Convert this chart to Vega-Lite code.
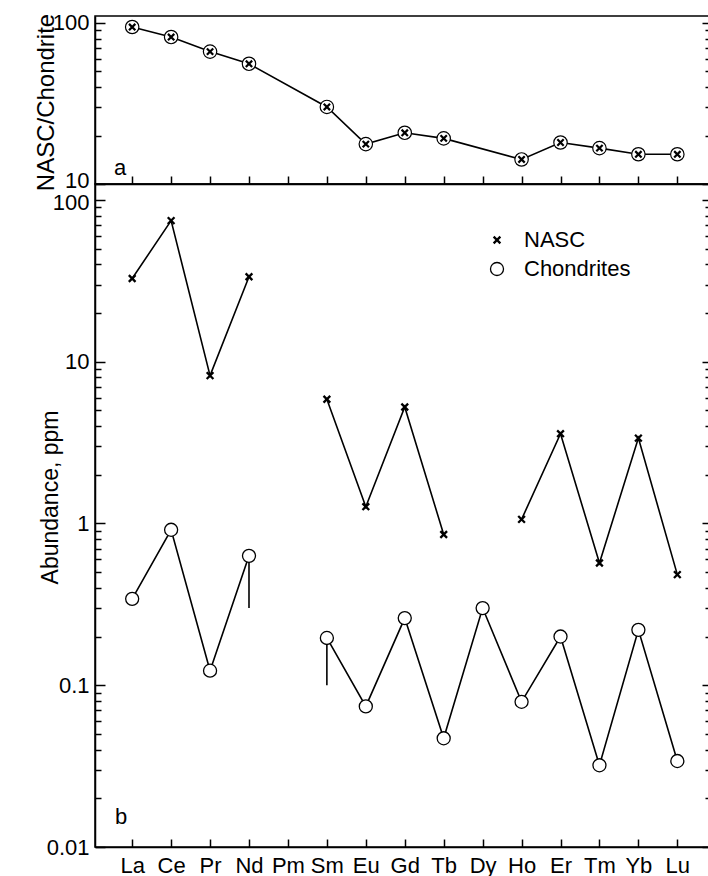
{
  "$schema": "https://vega.github.io/schema/vega-lite/v6.json",
  "background": "white",
  "padding": {"left": 33, "top": 11, "right": 0, "bottom": 0},
  "spacing": 0,
  "bounds": "flush",
  "config": {
    "font": "Liberation Sans",
    "view": {"stroke": "black", "strokeWidth": 1.5},
    "axis": {
      "domainColor": "black", "domainWidth": 1.5, "tickColor": "black", "tickWidth": 1.5,
      "labelColor": "black", "titleColor": "black", "grid": false,
      "labelFont": "Liberation Sans", "labelFontSize": 22,
      "titleFont": "Liberation Sans", "titleFontSize": 23, "titleFontWeight": "normal"
    },
    "text": {"font": "Liberation Sans"}
  },
  "datasets": {
    "ratio": [
      {"el": "La", "r": 94.4}, {"el": "Ce", "r": 81.8}, {"el": "Pr", "r": 66.4}, {"el": "Nd", "r": 55.8},
      {"el": "Sm", "r": 30.1}, {"el": "Eu", "r": 17.7}, {"el": "Gd", "r": 20.8}, {"el": "Tb", "r": 19.2},
      {"el": "Ho", "r": 14.2}, {"el": "Er", "r": 18.1}, {"el": "Tm", "r": 16.7}, {"el": "Yb", "r": 15.3},
      {"el": "Lu", "r": 15.3}
    ],
    "abund": [
      {"el": "La", "series": "NASC", "grp": "N1", "v": 32.7},
      {"el": "Ce", "series": "NASC", "grp": "N1", "v": 74.5},
      {"el": "Pr", "series": "NASC", "grp": "N1", "v": 8.2},
      {"el": "Nd", "series": "NASC", "grp": "N1", "v": 33.5},
      {"el": "Sm", "series": "NASC", "grp": "N2", "v": 5.86},
      {"el": "Eu", "series": "NASC", "grp": "N2", "v": 1.27},
      {"el": "Gd", "series": "NASC", "grp": "N2", "v": 5.25},
      {"el": "Tb", "series": "NASC", "grp": "N2", "v": 0.855},
      {"el": "Ho", "series": "NASC", "grp": "N3", "v": 1.06},
      {"el": "Er", "series": "NASC", "grp": "N3", "v": 3.59},
      {"el": "Tm", "series": "NASC", "grp": "N3", "v": 0.57},
      {"el": "Yb", "series": "NASC", "grp": "N3", "v": 3.37},
      {"el": "Lu", "series": "NASC", "grp": "N3", "v": 0.483},
      {"el": "La", "series": "Chondrites", "grp": "C1", "v": 0.342},
      {"el": "Ce", "series": "Chondrites", "grp": "C1", "v": 0.914},
      {"el": "Pr", "series": "Chondrites", "grp": "C1", "v": 0.123},
      {"el": "Nd", "series": "Chondrites", "grp": "C1", "v": 0.631},
      {"el": "Sm", "series": "Chondrites", "grp": "C2", "v": 0.196},
      {"el": "Eu", "series": "Chondrites", "grp": "C2", "v": 0.074},
      {"el": "Gd", "series": "Chondrites", "grp": "C2", "v": 0.26},
      {"el": "Tb", "series": "Chondrites", "grp": "C2", "v": 0.047},
      {"el": "Dy", "series": "Chondrites", "grp": "C2", "v": 0.30},
      {"el": "Ho", "series": "Chondrites", "grp": "C2", "v": 0.079},
      {"el": "Er", "series": "Chondrites", "grp": "C2", "v": 0.20},
      {"el": "Tm", "series": "Chondrites", "grp": "C2", "v": 0.032},
      {"el": "Yb", "series": "Chondrites", "grp": "C2", "v": 0.22},
      {"el": "Lu", "series": "Chondrites", "grp": "C2", "v": 0.034}
    ],
    "err": [
      {"el": "Nd", "lo": 0.30, "hi": 0.631},
      {"el": "Sm", "lo": 0.10, "hi": 0.196}
    ],
    "labA": [{"el": "La", "v": 12.66, "t": "a"}],
    "labB": [{"el": "La", "v": 0.0153, "t": "b"}]
  },
  "vconcat": [
    {
      "width": 614,
      "height": 168,
      "resolve": {"axis": {"y": "independent"}},
      "layer": [
        {
          "data": {"name": "ratio"},
          "mark": {"type": "line", "color": "black", "strokeWidth": 1.6},
          "encoding": {
            "x": {"field": "el", "type": "ordinal",
              "scale": {"type": "point", "domain": ["La","Ce","Pr","Nd","Pm","Sm","Eu","Gd","Tb","Dy","Ho","Er","Tm","Yb","Lu"], "padding": 0.884, "align": 0.54},
              "axis": {"orient": "bottom", "labels": false, "tickSize": -8, "title": null, "domain": true}},
            "y": {"field": "r", "type": "quantitative",
              "scale": {"type": "log", "domain": [10, 110.5], "nice": false},
              "axis": {"orient": "left", "values": [10,20,30,40,50,60,70,80,90,100], "format": "~g",
                "labelExpr": "abs(log(datum.value)/LN10 - round(log(datum.value)/LN10)) < 0.001 ? datum.label : ''",
                "labelFontSize": 22,
                "labelOffset": {"condition": {"test": "datum.value === 10", "value": -4}, "value": 0},
                "tickSize": {"condition": {"test": "abs(log(datum.value)/LN10 - round(log(datum.value)/LN10)) < 0.001", "value": -10}, "value": -6},
                "labelPadding": 16, "title": "NASC/Chondrite", "titleFontSize": 24,
                "titleX": -41.5, "titleY": 86, "titleAngle": 270, "titleAlign": "center", "titleBaseline": "alphabetic"}}
          }
        },
        {
          "data": {"name": "ratio"},
          "mark": {"type": "point", "shape": "circle", "size": 180, "filled": true, "fill": "white", "stroke": "black", "strokeWidth": 1.2, "opacity": 1},
          "encoding": {
            "x": {"field": "el", "type": "ordinal"},
            "y": {"field": "r", "type": "quantitative",
              "axis": {"orient": "right", "values": [10,20,30,40,50,60,70,80,90,100], "labels": false, "domain": false, "title": null,
                "tickSize": {"condition": {"test": "abs(log(datum.value)/LN10 - round(log(datum.value)/LN10)) < 0.001", "value": -7}, "value": -4}}}
          }
        },
        {
          "data": {"name": "ratio"},
          "mark": {"type": "point", "shape": "M-1,-1L1,1M1,-1L-1,1", "size": 40, "filled": false, "stroke": "black", "strokeWidth": 2.2, "opacity": 1},
          "encoding": {
            "x": {"field": "el", "type": "ordinal"},
            "y": {"field": "r", "type": "quantitative", "axis": null}
          }
        },
        {
          "data": {"name": "labA"},
          "mark": {"type": "text", "fontSize": 22, "dx": -12, "align": "center", "baseline": "middle", "color": "black"},
          "encoding": {
            "x": {"field": "el", "type": "ordinal"},
            "y": {"field": "v", "type": "quantitative", "axis": null},
            "text": {"field": "t"}
          }
        }
      ]
    },
    {
      "width": 614,
      "height": 663,
      "resolve": {"axis": {"y": "independent"}},
      "layer": [
        {
          "data": {"name": "abund"},
          "mark": {"type": "line", "color": "black", "strokeWidth": 1.6},
          "encoding": {
            "x": {"field": "el", "type": "ordinal",
              "scale": {"type": "point", "domain": ["La","Ce","Pr","Nd","Pm","Sm","Eu","Gd","Tb","Dy","Ho","Er","Tm","Yb","Lu"], "padding": 0.884, "align": 0.54},
              "axis": {"orient": "bottom", "tickSize": -8, "labelPadding": 16, "labelAngle": 0, "title": null, "domain": true, "labelFontSize": 22}},
            "y": {"field": "v", "type": "quantitative",
              "scale": {"type": "log", "domain": [0.01, 125.5], "nice": false},
              "axis": {"orient": "left",
                "values": [0.01,0.02,0.03,0.04,0.05,0.06,0.07,0.08,0.09,0.1,0.2,0.3,0.4,0.5,0.6,0.7,0.8,0.9,1,2,3,4,5,6,7,8,9,10,20,30,40,50,60,70,80,90,100],
                "format": "~g",
                "labelExpr": "abs(log(datum.value)/LN10 - round(log(datum.value)/LN10)) < 0.001 ? datum.label : ''",
                "labelFontSize": 22,
                "labelOffset": {"condition": {"test": "datum.value === 100", "value": 3}, "value": 0},
                "tickSize": {"condition": {"test": "abs(log(datum.value)/LN10 - round(log(datum.value)/LN10)) < 0.001", "value": -10}, "value": -6},
                "labelPadding": 16, "title": "Abundance, ppm",
                "titleX": -38, "titleY": 313, "titleAngle": 270, "titleAlign": "center", "titleBaseline": "alphabetic"}},
            "detail": {"field": "grp"}
          }
        },
        {
          "data": {"name": "err"},
          "mark": {"type": "rule", "color": "black", "strokeWidth": 1.6},
          "encoding": {
            "x": {"field": "el", "type": "ordinal"},
            "y": {"field": "lo", "type": "quantitative", "axis": null},
            "y2": {"field": "hi"}
          }
        },
        {
          "data": {"name": "abund"},
          "mark": {"type": "point", "filled": false, "color": "black", "fill": "white", "opacity": 1},
          "encoding": {
            "x": {"field": "el", "type": "ordinal"},
            "y": {"field": "v", "type": "quantitative",
              "axis": {"orient": "right",
                "values": [0.01,0.02,0.03,0.04,0.05,0.06,0.07,0.08,0.09,0.1,0.2,0.3,0.4,0.5,0.6,0.7,0.8,0.9,1,2,3,4,5,6,7,8,9,10,20,30,40,50,60,70,80,90,100],
                "labels": false, "domain": false, "title": null,
                "tickSize": {"condition": {"test": "abs(log(datum.value)/LN10 - round(log(datum.value)/LN10)) < 0.001", "value": -7}, "value": -4}}},
            "shape": {"field": "series", "type": "nominal",
              "scale": {"domain": ["NASC", "Chondrites"], "range": ["M-1,-1L1,1M1,-1L-1,1", "circle"]},
              "legend": {"orient": "none", "legendX": 391, "legendY": 213, "title": null,
                "labelFontSize": 22, "labelFont": "Liberation Sans", "labelColor": "black",
                "labelOffset": 16, "rowPadding": 7, "padding": 0}},
            "size": {"field": "series", "type": "nominal",
              "scale": {"domain": ["NASC", "Chondrites"], "range": [45, 170]}},
            "strokeWidth": {"field": "series", "type": "nominal",
              "scale": {"domain": ["NASC", "Chondrites"], "range": [2.3, 1.3]}}
          }
        },
        {
          "data": {"name": "labB"},
          "mark": {"type": "text", "fontSize": 22, "dx": -11, "align": "center", "baseline": "middle", "color": "black"},
          "encoding": {
            "x": {"field": "el", "type": "ordinal"},
            "y": {"field": "v", "type": "quantitative", "axis": null},
            "text": {"field": "t"}
          }
        }
      ]
    }
  ]
}
